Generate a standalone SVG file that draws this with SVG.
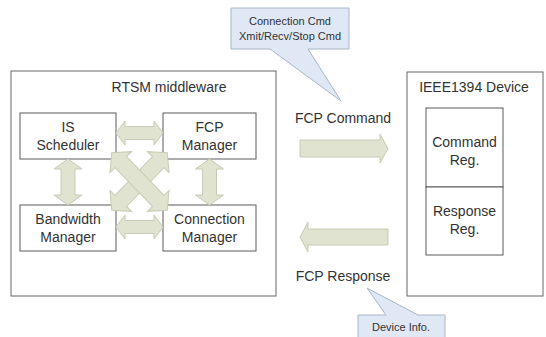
<svg xmlns="http://www.w3.org/2000/svg" width="546" height="337" viewBox="0 0 546 337">
<style>
text{font-family:"Liberation Sans",Arial,sans-serif;fill:#333;text-anchor:middle}
.t14{font-size:14px}
.t10{font-size:11px}
.box{fill:#fff;stroke:#5a5a5a;stroke-width:1}
.frame{fill:#fff;stroke:#666;stroke-width:1}
.arr{fill:#dfe3d0;stroke:#c6ccb4;stroke-width:1}
.call{fill:#dfe8f4;stroke:#a8b6c8;stroke-width:1}
</style>
<rect width="546" height="337" fill="#fff"/>
<g id="rtsm">
<rect class="frame" x="11" y="71" width="265" height="225"/>
<text class="t14" x="169" y="92">RTSM middleware</text>
</g>
<g id="ieee1394">
<rect class="frame" x="407" y="72" width="136" height="224"/>
<text class="t14" x="474" y="92">IEEE1394 Device</text>
</g>
<g id="is-scheduler">
<rect class="box" x="20" y="113" width="96" height="46"/>
<text class="t14" x="68" y="132">IS</text>
<text class="t14" x="68" y="150">Scheduler</text>
</g>
<g id="fcp-manager">
<rect class="box" x="163" y="113" width="93" height="46"/>
<text class="t14" x="209.5" y="132">FCP</text>
<text class="t14" x="209.5" y="150">Manager</text>
</g>
<g id="bandwidth-manager">
<rect class="box" x="20" y="205" width="96" height="46"/>
<text class="t14" x="68" y="224">Bandwidth</text>
<text class="t14" x="68" y="242">Manager</text>
</g>
<g id="connection-manager">
<rect class="box" x="163" y="205" width="93" height="46"/>
<text class="t14" x="209.5" y="224">Connection</text>
<text class="t14" x="209.5" y="242">Manager</text>
</g>
<g id="command-reg">
<rect class="box" x="426" y="108" width="77" height="79"/>
<text class="t14" x="464.5" y="147">Command</text>
<text class="t14" x="464.5" y="165">Reg.</text>
</g>
<g id="response-reg">
<rect class="box" x="426" y="187" width="77" height="68"/>
<text class="t14" x="464.5" y="216">Response</text>
<text class="t14" x="464.5" y="234">Reg.</text>
</g>
<g id="connectors">
<path class="arr" d="M116,133 L125,121 L125,126.5 L154,126.5 L154,121 L163,133 L154,145 L154,139.5 L125,139.5 L125,145 Z"/>
<path class="arr" d="M116,227 L125,215 L125,220.5 L154,220.5 L154,215 L163,227 L154,239 L154,233.5 L125,233.5 L125,239 Z"/>
<path class="arr" d="M68,159 L82,169 L75,169 L75,195 L82,195 L68,205 L54,195 L61,195 L61,169 L54,169 Z"/>
<path class="arr" d="M209.5,159 L223.5,169 L216.5,169 L216.5,195 L223.5,195 L209.5,205 L195.5,195 L202.5,195 L202.5,169 L195.5,169 Z"/>
<path class="arr" transform="translate(139.5 181.5) rotate(-46)" d="M-40,0 L-27,-15 L-27,-8 L27,-8 L27,-15 L40,0 L27,15 L27,8 L-27,8 L-27,15 Z"/>
<path class="arr" transform="translate(139.5 181.5) rotate(46)" d="M-40,0 L-27,-15 L-27,-8 L27,-8 L27,-15 L40,0 L27,15 L27,8 L-27,8 L-27,15 Z"/>
<path class="arr" d="M300,140 L380,140 L380,134 L388,148.5 L380,163 L380,157 L300,157 Z"/>
<path class="arr" d="M388,229 L308,229 L308,222 L300,237 L308,252 L308,245 L388,245 Z"/>
</g>
<g id="fcp-command">
<text class="t14" x="343" y="123">FCP Command</text>
</g>
<g id="fcp-response">
<text class="t14" x="343" y="281">FCP Response</text>
</g>
<g id="callout-command">
<path class="call" d="M231,8 H349 V49 H308 L341,101 L270,49 H231 Z"/>
<text class="t10" x="290" y="25">Connection Cmd</text>
<text class="t10" x="290" y="40">Xmit/Recv/Stop Cmd</text>
</g>
<g id="callout-device">
<path class="call" d="M358,315 H386 L367,288 L418,315 H445 V345 H358 Z"/>
<text class="t10" x="401" y="331">Device Info.</text>
</g>
</svg>
